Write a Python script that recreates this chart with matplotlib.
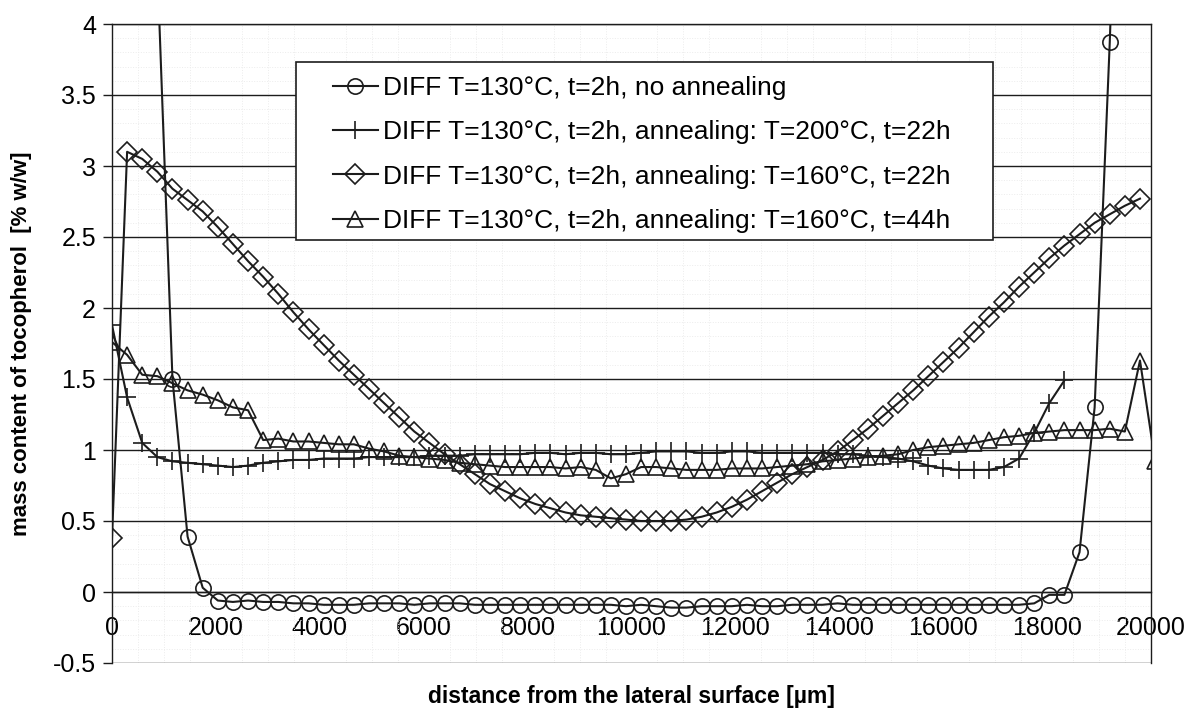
import matplotlib.pyplot as plt
import numpy as np
from matplotlib.patches import Rectangle
from matplotlib.ticker import FuncFormatter

plt.rcParams['font.family'] = ['Liberation Sans', 'DejaVu Sans']

# slices are ~291 um apart, first slice at the lateral surface
slice_um = 291

labels = [
    "DIFF T=130°C, t=2h, no annealing",
    "DIFF T=130°C, t=2h, annealing: T=200°C, t=22h",
    "DIFF T=130°C, t=2h, annealing: T=160°C, t=22h",
    "DIFF T=130°C, t=2h, annealing: T=160°C, t=44h",
]

# no annealing (first slice index 3)
no_ann_start = 3
no_ann = [4.4, 1.5, 0.39, 0.03,
          -0.06, -0.07, -0.06, -0.07, -0.07, -0.08, -0.08, -0.09, -0.09, -0.09,
          -0.08, -0.08, -0.08, -0.09, -0.08, -0.08, -0.08, -0.09, -0.09, -0.09,
          -0.09, -0.09, -0.09, -0.09, -0.09, -0.09, -0.09, -0.10, -0.09, -0.10,
          -0.11, -0.11, -0.10, -0.10, -0.10, -0.09, -0.10, -0.10, -0.09, -0.09,
          -0.09, -0.08, -0.09, -0.09, -0.09, -0.09, -0.09, -0.09, -0.09, -0.09,
          -0.09, -0.09, -0.09, -0.09, -0.08,
          -0.02, -0.02, 0.28, 1.30, 3.87, 7.0]

# annealing 200 C, 22 h
ann200_22 = [1.88, 1.37, 1.05, 0.95, 0.92, 0.91, 0.90, 0.89, 0.88, 0.89,
             0.91, 0.92, 0.93, 0.93, 0.94, 0.94, 0.94, 0.95, 0.95, 0.95,
             0.95, 0.96, 0.96, 0.96, 0.97, 0.97, 0.97, 0.97, 0.98, 0.98,
             0.97, 0.98, 0.98, 0.97, 0.97, 0.98, 0.99, 0.99, 0.99, 0.98,
             0.98, 0.99, 0.99, 0.98, 0.98, 0.98, 0.98, 0.98, 0.97, 0.97,
             0.96, 0.95, 0.94, 0.92, 0.89, 0.87, 0.86, 0.86, 0.86, 0.88,
             0.94, 1.12, 1.33, 1.49]

# annealing 160 C, 22 h
ann160_22 = [0.38, 3.10, 3.05, 2.96, 2.84, 2.76, 2.68, 2.57, 2.45, 2.33,
             2.22, 2.10, 1.97, 1.85, 1.74, 1.63, 1.53, 1.43, 1.33, 1.23,
             1.13, 1.05, 0.97, 0.90, 0.83, 0.76, 0.71, 0.66, 0.62, 0.59,
             0.56, 0.54, 0.53, 0.52, 0.51, 0.50, 0.50, 0.50, 0.51, 0.53,
             0.56, 0.60, 0.65, 0.71, 0.77, 0.83, 0.88, 0.93, 0.99, 1.07,
             1.15, 1.24, 1.33, 1.42, 1.52, 1.62, 1.72, 1.83, 1.94, 2.04,
             2.15, 2.25, 2.35, 2.44, 2.52, 2.60, 2.66, 2.72, 2.77]

# annealing 160 C, 44 h
ann160_44 = [1.76, 1.67, 1.53, 1.52, 1.47, 1.42, 1.39, 1.35, 1.30, 1.28,
             1.07, 1.08, 1.06, 1.06, 1.05, 1.04, 1.04, 1.01, 0.99, 0.96,
             0.95, 0.94, 0.93, 0.91, 0.90, 0.89, 0.88, 0.88, 0.88, 0.88,
             0.87, 0.88, 0.86, 0.80, 0.83, 0.88, 0.88, 0.87, 0.86, 0.86,
             0.86, 0.87, 0.87, 0.87, 0.88, 0.89, 0.90, 0.92, 0.93, 0.94,
             0.95, 0.96, 0.97, 1.00, 1.02, 1.03, 1.04, 1.05, 1.07, 1.09,
             1.10, 1.12, 1.13, 1.14, 1.14, 1.14, 1.15, 1.13, 1.63, 0.92]

fig = plt.figure(figsize=(11.93, 7.18), dpi=100)
ax = fig.add_axes([112 / 1193, 55 / 718, 1039 / 1193, 639 / 718])

ink = '#1c1c1c'
series = [
    (no_ann_start, no_ann, 'o', 11),
    (0, ann200_22, '+', 13),
    (0, ann160_22, 'D', 10.5),
    (0, ann160_44, '^', 11),
]
for (start, vals, mk, ms), lab in zip(series, labels):
    x = slice_um * (start + np.arange(len(vals)))
    ax.plot(x, vals, color=ink, lw=1.5, marker=mk, ms=ms, mfc='none',
            mec=ink, mew=1.2, label=lab, zorder=3)

ax.set_xlim(0, 20000)
ax.set_ylim(-0.5, 4)
ax.set_xticks(np.arange(0, 20001, 2000))
ax.set_yticks(np.arange(-0.5, 4.01, 0.5))
ax.yaxis.set_major_formatter(FuncFormatter(lambda v, p: '%g' % v))

ax.set_xticks(np.arange(0, 20001, 500), minor=True)
ax.set_yticks(np.arange(-0.5, 4.01, 0.1), minor=True)
ax.grid(which='minor', color='#ececec', ls=':', lw=0.7)
ax.yaxis.grid(True, which='major', color=ink, lw=1.0)
ax.set_axisbelow(True)

ax.spines['bottom'].set_position(('data', 0))
for s in ax.spines.values():
    s.set_color(ink)
    s.set_linewidth(1.0)

ax.tick_params(axis='x', which='major', length=0, pad=17, labelsize=18)
ax.tick_params(axis='y', which='major', direction='out', length=6.5, width=1.0,
               pad=5, labelsize=18, color=ink)
ax.tick_params(which='minor', length=0)

ax.set_xlabel("distance from the lateral surface [µm]", fontsize=16.5,
              fontweight='bold')
ax.xaxis.label.set_va('center')
ax.xaxis.set_label_coords(0.5, -0.053)
ax.set_ylabel("mass content of tocopherol  [% w/w]", fontsize=16,
              fontweight='bold')
ax.yaxis.label.set_va('center')
ax.yaxis.set_label_coords(-0.087, 0.5)

box = Rectangle((0.1771, 0.662), 0.6709, 0.2786, transform=ax.transAxes,
                facecolor='white', edgecolor=ink, lw=1.2, zorder=4)
ax.add_patch(box)
leg = ax.legend(loc='upper left', bbox_to_anchor=(0.2127, 0.9185),
                frameon=False, fontsize=19, borderpad=0, borderaxespad=0,
                handlelength=1.7, handletextpad=0.2, labelspacing=0.77,
                numpoints=1)
leg.set_zorder(5)

fig.savefig('out.png', dpi=100)
